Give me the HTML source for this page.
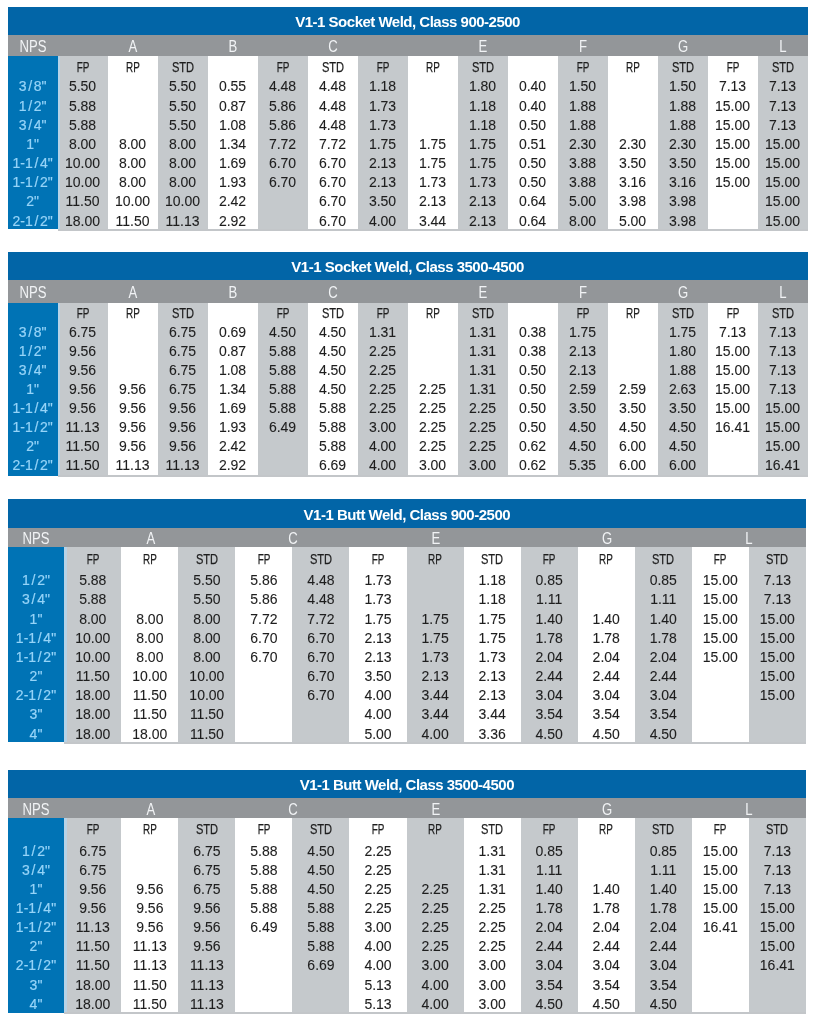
<!DOCTYPE html>
<html><head><meta charset="utf-8"><title>V1-1 Dimensions</title>
<style>
html,body{margin:0;padding:0;background:#fff}
body{width:815px;height:1024px;position:relative;overflow:hidden;font-family:"Liberation Sans", sans-serif}
.r{position:absolute}
.t{position:absolute;height:20px;line-height:20px;font-size:14px;text-align:center;white-space:nowrap}
.d{color:#1e1e1e;-webkit-text-stroke:0.1px #1e1e1e}
.s{color:#1e1e1e;font-size:15px;-webkit-text-stroke:0.25px #1e1e1e}
.sFP{transform:scaleX(0.66)}
.sRP{transform:scaleX(0.66)}
.sSTD{transform:scaleX(0.74)}
.n{color:#96d4f8;-webkit-text-stroke:0.2px #96d4f8}
.h{color:#f1f3f5;font-size:16px;transform:scaleX(0.82)}
.sl{margin:0 1.7px}
.title{position:absolute;color:#fff;font-weight:bold;font-size:15px;text-align:center;letter-spacing:-0.5px;white-space:nowrap}
</style></head><body>
<div class="r" style="left:7.75px;top:6.80px;width:799.75px;height:27.80px;background:#0265a7"></div>
<div class="r" style="left:7.75px;top:34.60px;width:799.75px;height:21.80px;background:#939699"></div>
<div class="r" style="left:7.75px;top:56.40px;width:49.75px;height:173.00px;background:#0073b5"></div>
<div class="r" style="left:57.50px;top:56.40px;width:50.00px;height:174.40px;background:#c5c9cc"></div>
<div class="r" style="left:157.50px;top:56.40px;width:50.00px;height:174.40px;background:#c5c9cc"></div>
<div class="r" style="left:257.50px;top:56.40px;width:50.00px;height:174.40px;background:#c5c9cc"></div>
<div class="r" style="left:357.50px;top:56.40px;width:50.00px;height:174.40px;background:#c5c9cc"></div>
<div class="r" style="left:457.50px;top:56.40px;width:50.00px;height:174.40px;background:#c5c9cc"></div>
<div class="r" style="left:557.50px;top:56.40px;width:50.00px;height:174.40px;background:#c5c9cc"></div>
<div class="r" style="left:657.50px;top:56.40px;width:50.00px;height:174.40px;background:#c5c9cc"></div>
<div class="r" style="left:757.50px;top:56.40px;width:50.00px;height:174.40px;background:#c5c9cc"></div>
<div class="r" style="left:57.50px;top:56.40px;width:2.50px;height:172.60px;background:#b7d3e7"></div>
<div class="r" style="left:57.50px;top:228.80px;width:750.00px;height:2.00px;background:#c3c6c9"></div>
<div class="title" style="left:7.75px;top:8.10px;width:799.75px;height:27.80px;line-height:27.80px">V1-1 Socket Weld, Class 900-2500</div>
<div class="t h" style="left:2.62px;top:37.26px;width:60px">NPS</div>
<div class="t h" style="left:103.00px;top:37.26px;width:60px">A</div>
<div class="t h" style="left:203.00px;top:37.26px;width:60px">B</div>
<div class="t h" style="left:303.00px;top:37.26px;width:60px">C</div>
<div class="t h" style="left:453.00px;top:37.26px;width:60px">E</div>
<div class="t h" style="left:553.00px;top:37.26px;width:60px">F</div>
<div class="t h" style="left:653.00px;top:37.26px;width:60px">G</div>
<div class="t h" style="left:753.00px;top:37.26px;width:60px">L</div>
<div class="t s sFP" style="left:52.50px;top:56.70px;width:60px">FP</div>
<div class="t s sRP" style="left:102.50px;top:56.70px;width:60px">RP</div>
<div class="t s sSTD" style="left:152.50px;top:56.70px;width:60px">STD</div>
<div class="t s sFP" style="left:252.50px;top:56.70px;width:60px">FP</div>
<div class="t s sSTD" style="left:302.50px;top:56.70px;width:60px">STD</div>
<div class="t s sFP" style="left:352.50px;top:56.70px;width:60px">FP</div>
<div class="t s sRP" style="left:402.50px;top:56.70px;width:60px">RP</div>
<div class="t s sSTD" style="left:452.50px;top:56.70px;width:60px">STD</div>
<div class="t s sFP" style="left:552.50px;top:56.70px;width:60px">FP</div>
<div class="t s sRP" style="left:602.50px;top:56.70px;width:60px">RP</div>
<div class="t s sSTD" style="left:652.50px;top:56.70px;width:60px">STD</div>
<div class="t s sFP" style="left:702.50px;top:56.70px;width:60px">FP</div>
<div class="t s sSTD" style="left:752.50px;top:56.70px;width:60px">STD</div>
<div class="t n" style="left:2.62px;top:76.35px;width:60px">3<span class="sl">/</span>8"</div>
<div class="t d" style="left:52.50px;top:76.35px;width:60px">5.50</div>
<div class="t d" style="left:152.50px;top:76.35px;width:60px">5.50</div>
<div class="t d" style="left:202.50px;top:76.35px;width:60px">0.55</div>
<div class="t d" style="left:252.50px;top:76.35px;width:60px">4.48</div>
<div class="t d" style="left:302.50px;top:76.35px;width:60px">4.48</div>
<div class="t d" style="left:352.50px;top:76.35px;width:60px">1.18</div>
<div class="t d" style="left:452.50px;top:76.35px;width:60px">1.80</div>
<div class="t d" style="left:502.50px;top:76.35px;width:60px">0.40</div>
<div class="t d" style="left:552.50px;top:76.35px;width:60px">1.50</div>
<div class="t d" style="left:652.50px;top:76.35px;width:60px">1.50</div>
<div class="t d" style="left:702.50px;top:76.35px;width:60px">7.13</div>
<div class="t d" style="left:752.50px;top:76.35px;width:60px">7.13</div>
<div class="t n" style="left:2.62px;top:95.52px;width:60px">1<span class="sl">/</span>2"</div>
<div class="t d" style="left:52.50px;top:95.52px;width:60px">5.88</div>
<div class="t d" style="left:152.50px;top:95.52px;width:60px">5.50</div>
<div class="t d" style="left:202.50px;top:95.52px;width:60px">0.87</div>
<div class="t d" style="left:252.50px;top:95.52px;width:60px">5.86</div>
<div class="t d" style="left:302.50px;top:95.52px;width:60px">4.48</div>
<div class="t d" style="left:352.50px;top:95.52px;width:60px">1.73</div>
<div class="t d" style="left:452.50px;top:95.52px;width:60px">1.18</div>
<div class="t d" style="left:502.50px;top:95.52px;width:60px">0.40</div>
<div class="t d" style="left:552.50px;top:95.52px;width:60px">1.88</div>
<div class="t d" style="left:652.50px;top:95.52px;width:60px">1.88</div>
<div class="t d" style="left:702.50px;top:95.52px;width:60px">15.00</div>
<div class="t d" style="left:752.50px;top:95.52px;width:60px">7.13</div>
<div class="t n" style="left:2.62px;top:114.69px;width:60px">3<span class="sl">/</span>4"</div>
<div class="t d" style="left:52.50px;top:114.69px;width:60px">5.88</div>
<div class="t d" style="left:152.50px;top:114.69px;width:60px">5.50</div>
<div class="t d" style="left:202.50px;top:114.69px;width:60px">1.08</div>
<div class="t d" style="left:252.50px;top:114.69px;width:60px">5.86</div>
<div class="t d" style="left:302.50px;top:114.69px;width:60px">4.48</div>
<div class="t d" style="left:352.50px;top:114.69px;width:60px">1.73</div>
<div class="t d" style="left:452.50px;top:114.69px;width:60px">1.18</div>
<div class="t d" style="left:502.50px;top:114.69px;width:60px">0.50</div>
<div class="t d" style="left:552.50px;top:114.69px;width:60px">1.88</div>
<div class="t d" style="left:652.50px;top:114.69px;width:60px">1.88</div>
<div class="t d" style="left:702.50px;top:114.69px;width:60px">15.00</div>
<div class="t d" style="left:752.50px;top:114.69px;width:60px">7.13</div>
<div class="t n" style="left:2.62px;top:133.86px;width:60px">1"</div>
<div class="t d" style="left:52.50px;top:133.86px;width:60px">8.00</div>
<div class="t d" style="left:102.50px;top:133.86px;width:60px">8.00</div>
<div class="t d" style="left:152.50px;top:133.86px;width:60px">8.00</div>
<div class="t d" style="left:202.50px;top:133.86px;width:60px">1.34</div>
<div class="t d" style="left:252.50px;top:133.86px;width:60px">7.72</div>
<div class="t d" style="left:302.50px;top:133.86px;width:60px">7.72</div>
<div class="t d" style="left:352.50px;top:133.86px;width:60px">1.75</div>
<div class="t d" style="left:402.50px;top:133.86px;width:60px">1.75</div>
<div class="t d" style="left:452.50px;top:133.86px;width:60px">1.75</div>
<div class="t d" style="left:502.50px;top:133.86px;width:60px">0.51</div>
<div class="t d" style="left:552.50px;top:133.86px;width:60px">2.30</div>
<div class="t d" style="left:602.50px;top:133.86px;width:60px">2.30</div>
<div class="t d" style="left:652.50px;top:133.86px;width:60px">2.30</div>
<div class="t d" style="left:702.50px;top:133.86px;width:60px">15.00</div>
<div class="t d" style="left:752.50px;top:133.86px;width:60px">15.00</div>
<div class="t n" style="left:2.62px;top:153.03px;width:60px">1-1<span class="sl">/</span>4"</div>
<div class="t d" style="left:52.50px;top:153.03px;width:60px">10.00</div>
<div class="t d" style="left:102.50px;top:153.03px;width:60px">8.00</div>
<div class="t d" style="left:152.50px;top:153.03px;width:60px">8.00</div>
<div class="t d" style="left:202.50px;top:153.03px;width:60px">1.69</div>
<div class="t d" style="left:252.50px;top:153.03px;width:60px">6.70</div>
<div class="t d" style="left:302.50px;top:153.03px;width:60px">6.70</div>
<div class="t d" style="left:352.50px;top:153.03px;width:60px">2.13</div>
<div class="t d" style="left:402.50px;top:153.03px;width:60px">1.75</div>
<div class="t d" style="left:452.50px;top:153.03px;width:60px">1.75</div>
<div class="t d" style="left:502.50px;top:153.03px;width:60px">0.50</div>
<div class="t d" style="left:552.50px;top:153.03px;width:60px">3.88</div>
<div class="t d" style="left:602.50px;top:153.03px;width:60px">3.50</div>
<div class="t d" style="left:652.50px;top:153.03px;width:60px">3.50</div>
<div class="t d" style="left:702.50px;top:153.03px;width:60px">15.00</div>
<div class="t d" style="left:752.50px;top:153.03px;width:60px">15.00</div>
<div class="t n" style="left:2.62px;top:172.20px;width:60px">1-1<span class="sl">/</span>2"</div>
<div class="t d" style="left:52.50px;top:172.20px;width:60px">10.00</div>
<div class="t d" style="left:102.50px;top:172.20px;width:60px">8.00</div>
<div class="t d" style="left:152.50px;top:172.20px;width:60px">8.00</div>
<div class="t d" style="left:202.50px;top:172.20px;width:60px">1.93</div>
<div class="t d" style="left:252.50px;top:172.20px;width:60px">6.70</div>
<div class="t d" style="left:302.50px;top:172.20px;width:60px">6.70</div>
<div class="t d" style="left:352.50px;top:172.20px;width:60px">2.13</div>
<div class="t d" style="left:402.50px;top:172.20px;width:60px">1.73</div>
<div class="t d" style="left:452.50px;top:172.20px;width:60px">1.73</div>
<div class="t d" style="left:502.50px;top:172.20px;width:60px">0.50</div>
<div class="t d" style="left:552.50px;top:172.20px;width:60px">3.88</div>
<div class="t d" style="left:602.50px;top:172.20px;width:60px">3.16</div>
<div class="t d" style="left:652.50px;top:172.20px;width:60px">3.16</div>
<div class="t d" style="left:702.50px;top:172.20px;width:60px">15.00</div>
<div class="t d" style="left:752.50px;top:172.20px;width:60px">15.00</div>
<div class="t n" style="left:2.62px;top:191.37px;width:60px">2"</div>
<div class="t d" style="left:52.50px;top:191.37px;width:60px">11.50</div>
<div class="t d" style="left:102.50px;top:191.37px;width:60px">10.00</div>
<div class="t d" style="left:152.50px;top:191.37px;width:60px">10.00</div>
<div class="t d" style="left:202.50px;top:191.37px;width:60px">2.42</div>
<div class="t d" style="left:302.50px;top:191.37px;width:60px">6.70</div>
<div class="t d" style="left:352.50px;top:191.37px;width:60px">3.50</div>
<div class="t d" style="left:402.50px;top:191.37px;width:60px">2.13</div>
<div class="t d" style="left:452.50px;top:191.37px;width:60px">2.13</div>
<div class="t d" style="left:502.50px;top:191.37px;width:60px">0.64</div>
<div class="t d" style="left:552.50px;top:191.37px;width:60px">5.00</div>
<div class="t d" style="left:602.50px;top:191.37px;width:60px">3.98</div>
<div class="t d" style="left:652.50px;top:191.37px;width:60px">3.98</div>
<div class="t d" style="left:752.50px;top:191.37px;width:60px">15.00</div>
<div class="t n" style="left:2.62px;top:210.54px;width:60px">2-1<span class="sl">/</span>2"</div>
<div class="t d" style="left:52.50px;top:210.54px;width:60px">18.00</div>
<div class="t d" style="left:102.50px;top:210.54px;width:60px">11.50</div>
<div class="t d" style="left:152.50px;top:210.54px;width:60px">11.13</div>
<div class="t d" style="left:202.50px;top:210.54px;width:60px">2.92</div>
<div class="t d" style="left:302.50px;top:210.54px;width:60px">6.70</div>
<div class="t d" style="left:352.50px;top:210.54px;width:60px">4.00</div>
<div class="t d" style="left:402.50px;top:210.54px;width:60px">3.44</div>
<div class="t d" style="left:452.50px;top:210.54px;width:60px">2.13</div>
<div class="t d" style="left:502.50px;top:210.54px;width:60px">0.64</div>
<div class="t d" style="left:552.50px;top:210.54px;width:60px">8.00</div>
<div class="t d" style="left:602.50px;top:210.54px;width:60px">5.00</div>
<div class="t d" style="left:652.50px;top:210.54px;width:60px">3.98</div>
<div class="t d" style="left:752.50px;top:210.54px;width:60px">15.00</div>
<div class="r" style="left:7.75px;top:252.00px;width:799.75px;height:28.20px;background:#0265a7"></div>
<div class="r" style="left:7.75px;top:280.20px;width:799.75px;height:22.50px;background:#939699"></div>
<div class="r" style="left:7.75px;top:302.70px;width:49.75px;height:172.90px;background:#0073b5"></div>
<div class="r" style="left:57.50px;top:302.70px;width:50.00px;height:174.30px;background:#c5c9cc"></div>
<div class="r" style="left:157.50px;top:302.70px;width:50.00px;height:174.30px;background:#c5c9cc"></div>
<div class="r" style="left:257.50px;top:302.70px;width:50.00px;height:174.30px;background:#c5c9cc"></div>
<div class="r" style="left:357.50px;top:302.70px;width:50.00px;height:174.30px;background:#c5c9cc"></div>
<div class="r" style="left:457.50px;top:302.70px;width:50.00px;height:174.30px;background:#c5c9cc"></div>
<div class="r" style="left:557.50px;top:302.70px;width:50.00px;height:174.30px;background:#c5c9cc"></div>
<div class="r" style="left:657.50px;top:302.70px;width:50.00px;height:174.30px;background:#c5c9cc"></div>
<div class="r" style="left:757.50px;top:302.70px;width:50.00px;height:174.30px;background:#c5c9cc"></div>
<div class="r" style="left:57.50px;top:302.70px;width:2.50px;height:172.50px;background:#b7d3e7"></div>
<div class="r" style="left:57.50px;top:475.00px;width:750.00px;height:2.00px;background:#c3c6c9"></div>
<div class="title" style="left:7.75px;top:253.30px;width:799.75px;height:28.20px;line-height:28.20px">V1-1 Socket Weld, Class 3500-4500</div>
<div class="t h" style="left:2.62px;top:283.21px;width:60px">NPS</div>
<div class="t h" style="left:103.00px;top:283.21px;width:60px">A</div>
<div class="t h" style="left:203.00px;top:283.21px;width:60px">B</div>
<div class="t h" style="left:303.00px;top:283.21px;width:60px">C</div>
<div class="t h" style="left:453.00px;top:283.21px;width:60px">E</div>
<div class="t h" style="left:553.00px;top:283.21px;width:60px">F</div>
<div class="t h" style="left:653.00px;top:283.21px;width:60px">G</div>
<div class="t h" style="left:753.00px;top:283.21px;width:60px">L</div>
<div class="t s sFP" style="left:52.50px;top:302.80px;width:60px">FP</div>
<div class="t s sRP" style="left:102.50px;top:302.80px;width:60px">RP</div>
<div class="t s sSTD" style="left:152.50px;top:302.80px;width:60px">STD</div>
<div class="t s sFP" style="left:252.50px;top:302.80px;width:60px">FP</div>
<div class="t s sSTD" style="left:302.50px;top:302.80px;width:60px">STD</div>
<div class="t s sFP" style="left:352.50px;top:302.80px;width:60px">FP</div>
<div class="t s sRP" style="left:402.50px;top:302.80px;width:60px">RP</div>
<div class="t s sSTD" style="left:452.50px;top:302.80px;width:60px">STD</div>
<div class="t s sFP" style="left:552.50px;top:302.80px;width:60px">FP</div>
<div class="t s sRP" style="left:602.50px;top:302.80px;width:60px">RP</div>
<div class="t s sSTD" style="left:652.50px;top:302.80px;width:60px">STD</div>
<div class="t s sFP" style="left:702.50px;top:302.80px;width:60px">FP</div>
<div class="t s sSTD" style="left:752.50px;top:302.80px;width:60px">STD</div>
<div class="t n" style="left:2.62px;top:321.55px;width:60px">3<span class="sl">/</span>8"</div>
<div class="t d" style="left:52.50px;top:321.55px;width:60px">6.75</div>
<div class="t d" style="left:152.50px;top:321.55px;width:60px">6.75</div>
<div class="t d" style="left:202.50px;top:321.55px;width:60px">0.69</div>
<div class="t d" style="left:252.50px;top:321.55px;width:60px">4.50</div>
<div class="t d" style="left:302.50px;top:321.55px;width:60px">4.50</div>
<div class="t d" style="left:352.50px;top:321.55px;width:60px">1.31</div>
<div class="t d" style="left:452.50px;top:321.55px;width:60px">1.31</div>
<div class="t d" style="left:502.50px;top:321.55px;width:60px">0.38</div>
<div class="t d" style="left:552.50px;top:321.55px;width:60px">1.75</div>
<div class="t d" style="left:652.50px;top:321.55px;width:60px">1.75</div>
<div class="t d" style="left:702.50px;top:321.55px;width:60px">7.13</div>
<div class="t d" style="left:752.50px;top:321.55px;width:60px">7.13</div>
<div class="t n" style="left:2.62px;top:340.65px;width:60px">1<span class="sl">/</span>2"</div>
<div class="t d" style="left:52.50px;top:340.65px;width:60px">9.56</div>
<div class="t d" style="left:152.50px;top:340.65px;width:60px">6.75</div>
<div class="t d" style="left:202.50px;top:340.65px;width:60px">0.87</div>
<div class="t d" style="left:252.50px;top:340.65px;width:60px">5.88</div>
<div class="t d" style="left:302.50px;top:340.65px;width:60px">4.50</div>
<div class="t d" style="left:352.50px;top:340.65px;width:60px">2.25</div>
<div class="t d" style="left:452.50px;top:340.65px;width:60px">1.31</div>
<div class="t d" style="left:502.50px;top:340.65px;width:60px">0.38</div>
<div class="t d" style="left:552.50px;top:340.65px;width:60px">2.13</div>
<div class="t d" style="left:652.50px;top:340.65px;width:60px">1.80</div>
<div class="t d" style="left:702.50px;top:340.65px;width:60px">15.00</div>
<div class="t d" style="left:752.50px;top:340.65px;width:60px">7.13</div>
<div class="t n" style="left:2.62px;top:359.75px;width:60px">3<span class="sl">/</span>4"</div>
<div class="t d" style="left:52.50px;top:359.75px;width:60px">9.56</div>
<div class="t d" style="left:152.50px;top:359.75px;width:60px">6.75</div>
<div class="t d" style="left:202.50px;top:359.75px;width:60px">1.08</div>
<div class="t d" style="left:252.50px;top:359.75px;width:60px">5.88</div>
<div class="t d" style="left:302.50px;top:359.75px;width:60px">4.50</div>
<div class="t d" style="left:352.50px;top:359.75px;width:60px">2.25</div>
<div class="t d" style="left:452.50px;top:359.75px;width:60px">1.31</div>
<div class="t d" style="left:502.50px;top:359.75px;width:60px">0.50</div>
<div class="t d" style="left:552.50px;top:359.75px;width:60px">2.13</div>
<div class="t d" style="left:652.50px;top:359.75px;width:60px">1.88</div>
<div class="t d" style="left:702.50px;top:359.75px;width:60px">15.00</div>
<div class="t d" style="left:752.50px;top:359.75px;width:60px">7.13</div>
<div class="t n" style="left:2.62px;top:378.85px;width:60px">1"</div>
<div class="t d" style="left:52.50px;top:378.85px;width:60px">9.56</div>
<div class="t d" style="left:102.50px;top:378.85px;width:60px">9.56</div>
<div class="t d" style="left:152.50px;top:378.85px;width:60px">6.75</div>
<div class="t d" style="left:202.50px;top:378.85px;width:60px">1.34</div>
<div class="t d" style="left:252.50px;top:378.85px;width:60px">5.88</div>
<div class="t d" style="left:302.50px;top:378.85px;width:60px">4.50</div>
<div class="t d" style="left:352.50px;top:378.85px;width:60px">2.25</div>
<div class="t d" style="left:402.50px;top:378.85px;width:60px">2.25</div>
<div class="t d" style="left:452.50px;top:378.85px;width:60px">1.31</div>
<div class="t d" style="left:502.50px;top:378.85px;width:60px">0.50</div>
<div class="t d" style="left:552.50px;top:378.85px;width:60px">2.59</div>
<div class="t d" style="left:602.50px;top:378.85px;width:60px">2.59</div>
<div class="t d" style="left:652.50px;top:378.85px;width:60px">2.63</div>
<div class="t d" style="left:702.50px;top:378.85px;width:60px">15.00</div>
<div class="t d" style="left:752.50px;top:378.85px;width:60px">7.13</div>
<div class="t n" style="left:2.62px;top:397.95px;width:60px">1-1<span class="sl">/</span>4"</div>
<div class="t d" style="left:52.50px;top:397.95px;width:60px">9.56</div>
<div class="t d" style="left:102.50px;top:397.95px;width:60px">9.56</div>
<div class="t d" style="left:152.50px;top:397.95px;width:60px">9.56</div>
<div class="t d" style="left:202.50px;top:397.95px;width:60px">1.69</div>
<div class="t d" style="left:252.50px;top:397.95px;width:60px">5.88</div>
<div class="t d" style="left:302.50px;top:397.95px;width:60px">5.88</div>
<div class="t d" style="left:352.50px;top:397.95px;width:60px">2.25</div>
<div class="t d" style="left:402.50px;top:397.95px;width:60px">2.25</div>
<div class="t d" style="left:452.50px;top:397.95px;width:60px">2.25</div>
<div class="t d" style="left:502.50px;top:397.95px;width:60px">0.50</div>
<div class="t d" style="left:552.50px;top:397.95px;width:60px">3.50</div>
<div class="t d" style="left:602.50px;top:397.95px;width:60px">3.50</div>
<div class="t d" style="left:652.50px;top:397.95px;width:60px">3.50</div>
<div class="t d" style="left:702.50px;top:397.95px;width:60px">15.00</div>
<div class="t d" style="left:752.50px;top:397.95px;width:60px">15.00</div>
<div class="t n" style="left:2.62px;top:417.05px;width:60px">1-1<span class="sl">/</span>2"</div>
<div class="t d" style="left:52.50px;top:417.05px;width:60px">11.13</div>
<div class="t d" style="left:102.50px;top:417.05px;width:60px">9.56</div>
<div class="t d" style="left:152.50px;top:417.05px;width:60px">9.56</div>
<div class="t d" style="left:202.50px;top:417.05px;width:60px">1.93</div>
<div class="t d" style="left:252.50px;top:417.05px;width:60px">6.49</div>
<div class="t d" style="left:302.50px;top:417.05px;width:60px">5.88</div>
<div class="t d" style="left:352.50px;top:417.05px;width:60px">3.00</div>
<div class="t d" style="left:402.50px;top:417.05px;width:60px">2.25</div>
<div class="t d" style="left:452.50px;top:417.05px;width:60px">2.25</div>
<div class="t d" style="left:502.50px;top:417.05px;width:60px">0.50</div>
<div class="t d" style="left:552.50px;top:417.05px;width:60px">4.50</div>
<div class="t d" style="left:602.50px;top:417.05px;width:60px">4.50</div>
<div class="t d" style="left:652.50px;top:417.05px;width:60px">4.50</div>
<div class="t d" style="left:702.50px;top:417.05px;width:60px">16.41</div>
<div class="t d" style="left:752.50px;top:417.05px;width:60px">15.00</div>
<div class="t n" style="left:2.62px;top:436.15px;width:60px">2"</div>
<div class="t d" style="left:52.50px;top:436.15px;width:60px">11.50</div>
<div class="t d" style="left:102.50px;top:436.15px;width:60px">9.56</div>
<div class="t d" style="left:152.50px;top:436.15px;width:60px">9.56</div>
<div class="t d" style="left:202.50px;top:436.15px;width:60px">2.42</div>
<div class="t d" style="left:302.50px;top:436.15px;width:60px">5.88</div>
<div class="t d" style="left:352.50px;top:436.15px;width:60px">4.00</div>
<div class="t d" style="left:402.50px;top:436.15px;width:60px">2.25</div>
<div class="t d" style="left:452.50px;top:436.15px;width:60px">2.25</div>
<div class="t d" style="left:502.50px;top:436.15px;width:60px">0.62</div>
<div class="t d" style="left:552.50px;top:436.15px;width:60px">4.50</div>
<div class="t d" style="left:602.50px;top:436.15px;width:60px">6.00</div>
<div class="t d" style="left:652.50px;top:436.15px;width:60px">4.50</div>
<div class="t d" style="left:752.50px;top:436.15px;width:60px">15.00</div>
<div class="t n" style="left:2.62px;top:455.25px;width:60px">2-1<span class="sl">/</span>2"</div>
<div class="t d" style="left:52.50px;top:455.25px;width:60px">11.50</div>
<div class="t d" style="left:102.50px;top:455.25px;width:60px">11.13</div>
<div class="t d" style="left:152.50px;top:455.25px;width:60px">11.13</div>
<div class="t d" style="left:202.50px;top:455.25px;width:60px">2.92</div>
<div class="t d" style="left:302.50px;top:455.25px;width:60px">6.69</div>
<div class="t d" style="left:352.50px;top:455.25px;width:60px">4.00</div>
<div class="t d" style="left:402.50px;top:455.25px;width:60px">3.00</div>
<div class="t d" style="left:452.50px;top:455.25px;width:60px">3.00</div>
<div class="t d" style="left:502.50px;top:455.25px;width:60px">0.62</div>
<div class="t d" style="left:552.50px;top:455.25px;width:60px">5.35</div>
<div class="t d" style="left:602.50px;top:455.25px;width:60px">6.00</div>
<div class="t d" style="left:652.50px;top:455.25px;width:60px">6.00</div>
<div class="t d" style="left:752.50px;top:455.25px;width:60px">16.41</div>
<div class="r" style="left:7.75px;top:499.30px;width:798.15px;height:28.50px;background:#0265a7"></div>
<div class="r" style="left:7.75px;top:527.80px;width:798.15px;height:19.00px;background:#939699"></div>
<div class="r" style="left:7.75px;top:546.80px;width:56.50px;height:195.60px;background:#0073b5"></div>
<div class="r" style="left:64.25px;top:546.80px;width:57.05px;height:197.00px;background:#c5c9cc"></div>
<div class="r" style="left:178.35px;top:546.80px;width:57.05px;height:197.00px;background:#c5c9cc"></div>
<div class="r" style="left:292.45px;top:546.80px;width:57.05px;height:197.00px;background:#c5c9cc"></div>
<div class="r" style="left:406.55px;top:546.80px;width:57.05px;height:197.00px;background:#c5c9cc"></div>
<div class="r" style="left:520.65px;top:546.80px;width:57.05px;height:197.00px;background:#c5c9cc"></div>
<div class="r" style="left:634.75px;top:546.80px;width:57.05px;height:197.00px;background:#c5c9cc"></div>
<div class="r" style="left:748.85px;top:546.80px;width:57.05px;height:197.00px;background:#c5c9cc"></div>
<div class="r" style="left:64.25px;top:546.80px;width:2.50px;height:195.20px;background:#b7d3e7"></div>
<div class="r" style="left:64.25px;top:741.80px;width:741.65px;height:2.00px;background:#c3c6c9"></div>
<div class="title" style="left:7.75px;top:500.60px;width:798.15px;height:28.50px;line-height:28.50px">V1-1 Butt Weld, Class 900-2500</div>
<div class="t h" style="left:6.00px;top:529.06px;width:60px">NPS</div>
<div class="t h" style="left:120.50px;top:529.06px;width:60px">A</div>
<div class="t h" style="left:263.00px;top:529.06px;width:60px">C</div>
<div class="t h" style="left:405.50px;top:529.06px;width:60px">E</div>
<div class="t h" style="left:576.50px;top:529.06px;width:60px">G</div>
<div class="t h" style="left:719.00px;top:529.06px;width:60px">L</div>
<div class="t s sFP" style="left:62.78px;top:549.20px;width:60px">FP</div>
<div class="t s sRP" style="left:119.82px;top:549.20px;width:60px">RP</div>
<div class="t s sSTD" style="left:176.88px;top:549.20px;width:60px">STD</div>
<div class="t s sFP" style="left:233.92px;top:549.20px;width:60px">FP</div>
<div class="t s sSTD" style="left:290.97px;top:549.20px;width:60px">STD</div>
<div class="t s sFP" style="left:348.02px;top:549.20px;width:60px">FP</div>
<div class="t s sRP" style="left:405.07px;top:549.20px;width:60px">RP</div>
<div class="t s sSTD" style="left:462.12px;top:549.20px;width:60px">STD</div>
<div class="t s sFP" style="left:519.17px;top:549.20px;width:60px">FP</div>
<div class="t s sRP" style="left:576.22px;top:549.20px;width:60px">RP</div>
<div class="t s sSTD" style="left:633.27px;top:549.20px;width:60px">STD</div>
<div class="t s sFP" style="left:690.32px;top:549.20px;width:60px">FP</div>
<div class="t s sSTD" style="left:747.37px;top:549.20px;width:60px">STD</div>
<div class="t n" style="left:6.00px;top:570.25px;width:60px">1<span class="sl">/</span>2"</div>
<div class="t d" style="left:62.78px;top:570.25px;width:60px">5.88</div>
<div class="t d" style="left:176.88px;top:570.25px;width:60px">5.50</div>
<div class="t d" style="left:233.92px;top:570.25px;width:60px">5.86</div>
<div class="t d" style="left:290.97px;top:570.25px;width:60px">4.48</div>
<div class="t d" style="left:348.02px;top:570.25px;width:60px">1.73</div>
<div class="t d" style="left:462.12px;top:570.25px;width:60px">1.18</div>
<div class="t d" style="left:519.17px;top:570.25px;width:60px">0.85</div>
<div class="t d" style="left:633.27px;top:570.25px;width:60px">0.85</div>
<div class="t d" style="left:690.32px;top:570.25px;width:60px">15.00</div>
<div class="t d" style="left:747.37px;top:570.25px;width:60px">7.13</div>
<div class="t n" style="left:6.00px;top:589.42px;width:60px">3<span class="sl">/</span>4"</div>
<div class="t d" style="left:62.78px;top:589.42px;width:60px">5.88</div>
<div class="t d" style="left:176.88px;top:589.42px;width:60px">5.50</div>
<div class="t d" style="left:233.92px;top:589.42px;width:60px">5.86</div>
<div class="t d" style="left:290.97px;top:589.42px;width:60px">4.48</div>
<div class="t d" style="left:348.02px;top:589.42px;width:60px">1.73</div>
<div class="t d" style="left:462.12px;top:589.42px;width:60px">1.18</div>
<div class="t d" style="left:519.17px;top:589.42px;width:60px">1.11</div>
<div class="t d" style="left:633.27px;top:589.42px;width:60px">1.11</div>
<div class="t d" style="left:690.32px;top:589.42px;width:60px">15.00</div>
<div class="t d" style="left:747.37px;top:589.42px;width:60px">7.13</div>
<div class="t n" style="left:6.00px;top:608.59px;width:60px">1"</div>
<div class="t d" style="left:62.78px;top:608.59px;width:60px">8.00</div>
<div class="t d" style="left:119.82px;top:608.59px;width:60px">8.00</div>
<div class="t d" style="left:176.88px;top:608.59px;width:60px">8.00</div>
<div class="t d" style="left:233.92px;top:608.59px;width:60px">7.72</div>
<div class="t d" style="left:290.97px;top:608.59px;width:60px">7.72</div>
<div class="t d" style="left:348.02px;top:608.59px;width:60px">1.75</div>
<div class="t d" style="left:405.07px;top:608.59px;width:60px">1.75</div>
<div class="t d" style="left:462.12px;top:608.59px;width:60px">1.75</div>
<div class="t d" style="left:519.17px;top:608.59px;width:60px">1.40</div>
<div class="t d" style="left:576.22px;top:608.59px;width:60px">1.40</div>
<div class="t d" style="left:633.27px;top:608.59px;width:60px">1.40</div>
<div class="t d" style="left:690.32px;top:608.59px;width:60px">15.00</div>
<div class="t d" style="left:747.37px;top:608.59px;width:60px">15.00</div>
<div class="t n" style="left:6.00px;top:627.76px;width:60px">1-1<span class="sl">/</span>4"</div>
<div class="t d" style="left:62.78px;top:627.76px;width:60px">10.00</div>
<div class="t d" style="left:119.82px;top:627.76px;width:60px">8.00</div>
<div class="t d" style="left:176.88px;top:627.76px;width:60px">8.00</div>
<div class="t d" style="left:233.92px;top:627.76px;width:60px">6.70</div>
<div class="t d" style="left:290.97px;top:627.76px;width:60px">6.70</div>
<div class="t d" style="left:348.02px;top:627.76px;width:60px">2.13</div>
<div class="t d" style="left:405.07px;top:627.76px;width:60px">1.75</div>
<div class="t d" style="left:462.12px;top:627.76px;width:60px">1.75</div>
<div class="t d" style="left:519.17px;top:627.76px;width:60px">1.78</div>
<div class="t d" style="left:576.22px;top:627.76px;width:60px">1.78</div>
<div class="t d" style="left:633.27px;top:627.76px;width:60px">1.78</div>
<div class="t d" style="left:690.32px;top:627.76px;width:60px">15.00</div>
<div class="t d" style="left:747.37px;top:627.76px;width:60px">15.00</div>
<div class="t n" style="left:6.00px;top:646.93px;width:60px">1-1<span class="sl">/</span>2"</div>
<div class="t d" style="left:62.78px;top:646.93px;width:60px">10.00</div>
<div class="t d" style="left:119.82px;top:646.93px;width:60px">8.00</div>
<div class="t d" style="left:176.88px;top:646.93px;width:60px">8.00</div>
<div class="t d" style="left:233.92px;top:646.93px;width:60px">6.70</div>
<div class="t d" style="left:290.97px;top:646.93px;width:60px">6.70</div>
<div class="t d" style="left:348.02px;top:646.93px;width:60px">2.13</div>
<div class="t d" style="left:405.07px;top:646.93px;width:60px">1.73</div>
<div class="t d" style="left:462.12px;top:646.93px;width:60px">1.73</div>
<div class="t d" style="left:519.17px;top:646.93px;width:60px">2.04</div>
<div class="t d" style="left:576.22px;top:646.93px;width:60px">2.04</div>
<div class="t d" style="left:633.27px;top:646.93px;width:60px">2.04</div>
<div class="t d" style="left:690.32px;top:646.93px;width:60px">15.00</div>
<div class="t d" style="left:747.37px;top:646.93px;width:60px">15.00</div>
<div class="t n" style="left:6.00px;top:666.10px;width:60px">2"</div>
<div class="t d" style="left:62.78px;top:666.10px;width:60px">11.50</div>
<div class="t d" style="left:119.82px;top:666.10px;width:60px">10.00</div>
<div class="t d" style="left:176.88px;top:666.10px;width:60px">10.00</div>
<div class="t d" style="left:290.97px;top:666.10px;width:60px">6.70</div>
<div class="t d" style="left:348.02px;top:666.10px;width:60px">3.50</div>
<div class="t d" style="left:405.07px;top:666.10px;width:60px">2.13</div>
<div class="t d" style="left:462.12px;top:666.10px;width:60px">2.13</div>
<div class="t d" style="left:519.17px;top:666.10px;width:60px">2.44</div>
<div class="t d" style="left:576.22px;top:666.10px;width:60px">2.44</div>
<div class="t d" style="left:633.27px;top:666.10px;width:60px">2.44</div>
<div class="t d" style="left:747.37px;top:666.10px;width:60px">15.00</div>
<div class="t n" style="left:6.00px;top:685.27px;width:60px">2-1<span class="sl">/</span>2"</div>
<div class="t d" style="left:62.78px;top:685.27px;width:60px">18.00</div>
<div class="t d" style="left:119.82px;top:685.27px;width:60px">11.50</div>
<div class="t d" style="left:176.88px;top:685.27px;width:60px">10.00</div>
<div class="t d" style="left:290.97px;top:685.27px;width:60px">6.70</div>
<div class="t d" style="left:348.02px;top:685.27px;width:60px">4.00</div>
<div class="t d" style="left:405.07px;top:685.27px;width:60px">3.44</div>
<div class="t d" style="left:462.12px;top:685.27px;width:60px">2.13</div>
<div class="t d" style="left:519.17px;top:685.27px;width:60px">3.04</div>
<div class="t d" style="left:576.22px;top:685.27px;width:60px">3.04</div>
<div class="t d" style="left:633.27px;top:685.27px;width:60px">3.04</div>
<div class="t d" style="left:747.37px;top:685.27px;width:60px">15.00</div>
<div class="t n" style="left:6.00px;top:704.44px;width:60px">3"</div>
<div class="t d" style="left:62.78px;top:704.44px;width:60px">18.00</div>
<div class="t d" style="left:119.82px;top:704.44px;width:60px">11.50</div>
<div class="t d" style="left:176.88px;top:704.44px;width:60px">11.50</div>
<div class="t d" style="left:348.02px;top:704.44px;width:60px">4.00</div>
<div class="t d" style="left:405.07px;top:704.44px;width:60px">3.44</div>
<div class="t d" style="left:462.12px;top:704.44px;width:60px">3.44</div>
<div class="t d" style="left:519.17px;top:704.44px;width:60px">3.54</div>
<div class="t d" style="left:576.22px;top:704.44px;width:60px">3.54</div>
<div class="t d" style="left:633.27px;top:704.44px;width:60px">3.54</div>
<div class="t n" style="left:6.00px;top:723.61px;width:60px">4"</div>
<div class="t d" style="left:62.78px;top:723.61px;width:60px">18.00</div>
<div class="t d" style="left:119.82px;top:723.61px;width:60px">18.00</div>
<div class="t d" style="left:176.88px;top:723.61px;width:60px">11.50</div>
<div class="t d" style="left:348.02px;top:723.61px;width:60px">5.00</div>
<div class="t d" style="left:405.07px;top:723.61px;width:60px">4.00</div>
<div class="t d" style="left:462.12px;top:723.61px;width:60px">3.36</div>
<div class="t d" style="left:519.17px;top:723.61px;width:60px">4.50</div>
<div class="t d" style="left:576.22px;top:723.61px;width:60px">4.50</div>
<div class="t d" style="left:633.27px;top:723.61px;width:60px">4.50</div>
<div class="r" style="left:7.75px;top:769.70px;width:798.15px;height:28.40px;background:#0265a7"></div>
<div class="r" style="left:7.75px;top:798.10px;width:798.15px;height:19.50px;background:#939699"></div>
<div class="r" style="left:7.75px;top:817.60px;width:56.50px;height:195.30px;background:#0073b5"></div>
<div class="r" style="left:64.25px;top:817.60px;width:57.05px;height:196.70px;background:#c5c9cc"></div>
<div class="r" style="left:178.35px;top:817.60px;width:57.05px;height:196.70px;background:#c5c9cc"></div>
<div class="r" style="left:292.45px;top:817.60px;width:57.05px;height:196.70px;background:#c5c9cc"></div>
<div class="r" style="left:406.55px;top:817.60px;width:57.05px;height:196.70px;background:#c5c9cc"></div>
<div class="r" style="left:520.65px;top:817.60px;width:57.05px;height:196.70px;background:#c5c9cc"></div>
<div class="r" style="left:634.75px;top:817.60px;width:57.05px;height:196.70px;background:#c5c9cc"></div>
<div class="r" style="left:748.85px;top:817.60px;width:57.05px;height:196.70px;background:#c5c9cc"></div>
<div class="r" style="left:64.25px;top:817.60px;width:2.50px;height:194.90px;background:#b7d3e7"></div>
<div class="r" style="left:64.25px;top:1012.30px;width:741.65px;height:2.00px;background:#c3c6c9"></div>
<div class="title" style="left:7.75px;top:771.00px;width:798.15px;height:28.40px;line-height:28.40px">V1-1 Butt Weld, Class 3500-4500</div>
<div class="t h" style="left:6.00px;top:799.61px;width:60px">NPS</div>
<div class="t h" style="left:120.50px;top:799.61px;width:60px">A</div>
<div class="t h" style="left:263.00px;top:799.61px;width:60px">C</div>
<div class="t h" style="left:405.50px;top:799.61px;width:60px">E</div>
<div class="t h" style="left:576.50px;top:799.61px;width:60px">G</div>
<div class="t h" style="left:719.00px;top:799.61px;width:60px">L</div>
<div class="t s sFP" style="left:62.78px;top:819.40px;width:60px">FP</div>
<div class="t s sRP" style="left:119.82px;top:819.40px;width:60px">RP</div>
<div class="t s sSTD" style="left:176.88px;top:819.40px;width:60px">STD</div>
<div class="t s sFP" style="left:233.92px;top:819.40px;width:60px">FP</div>
<div class="t s sSTD" style="left:290.97px;top:819.40px;width:60px">STD</div>
<div class="t s sFP" style="left:348.02px;top:819.40px;width:60px">FP</div>
<div class="t s sRP" style="left:405.07px;top:819.40px;width:60px">RP</div>
<div class="t s sSTD" style="left:462.12px;top:819.40px;width:60px">STD</div>
<div class="t s sFP" style="left:519.17px;top:819.40px;width:60px">FP</div>
<div class="t s sRP" style="left:576.22px;top:819.40px;width:60px">RP</div>
<div class="t s sSTD" style="left:633.27px;top:819.40px;width:60px">STD</div>
<div class="t s sFP" style="left:690.32px;top:819.40px;width:60px">FP</div>
<div class="t s sSTD" style="left:747.37px;top:819.40px;width:60px">STD</div>
<div class="t n" style="left:6.00px;top:840.65px;width:60px">1<span class="sl">/</span>2"</div>
<div class="t d" style="left:62.78px;top:840.65px;width:60px">6.75</div>
<div class="t d" style="left:176.88px;top:840.65px;width:60px">6.75</div>
<div class="t d" style="left:233.92px;top:840.65px;width:60px">5.88</div>
<div class="t d" style="left:290.97px;top:840.65px;width:60px">4.50</div>
<div class="t d" style="left:348.02px;top:840.65px;width:60px">2.25</div>
<div class="t d" style="left:462.12px;top:840.65px;width:60px">1.31</div>
<div class="t d" style="left:519.17px;top:840.65px;width:60px">0.85</div>
<div class="t d" style="left:633.27px;top:840.65px;width:60px">0.85</div>
<div class="t d" style="left:690.32px;top:840.65px;width:60px">15.00</div>
<div class="t d" style="left:747.37px;top:840.65px;width:60px">7.13</div>
<div class="t n" style="left:6.00px;top:859.77px;width:60px">3<span class="sl">/</span>4"</div>
<div class="t d" style="left:62.78px;top:859.77px;width:60px">6.75</div>
<div class="t d" style="left:176.88px;top:859.77px;width:60px">6.75</div>
<div class="t d" style="left:233.92px;top:859.77px;width:60px">5.88</div>
<div class="t d" style="left:290.97px;top:859.77px;width:60px">4.50</div>
<div class="t d" style="left:348.02px;top:859.77px;width:60px">2.25</div>
<div class="t d" style="left:462.12px;top:859.77px;width:60px">1.31</div>
<div class="t d" style="left:519.17px;top:859.77px;width:60px">1.11</div>
<div class="t d" style="left:633.27px;top:859.77px;width:60px">1.11</div>
<div class="t d" style="left:690.32px;top:859.77px;width:60px">15.00</div>
<div class="t d" style="left:747.37px;top:859.77px;width:60px">7.13</div>
<div class="t n" style="left:6.00px;top:878.90px;width:60px">1"</div>
<div class="t d" style="left:62.78px;top:878.90px;width:60px">9.56</div>
<div class="t d" style="left:119.82px;top:878.90px;width:60px">9.56</div>
<div class="t d" style="left:176.88px;top:878.90px;width:60px">6.75</div>
<div class="t d" style="left:233.92px;top:878.90px;width:60px">5.88</div>
<div class="t d" style="left:290.97px;top:878.90px;width:60px">4.50</div>
<div class="t d" style="left:348.02px;top:878.90px;width:60px">2.25</div>
<div class="t d" style="left:405.07px;top:878.90px;width:60px">2.25</div>
<div class="t d" style="left:462.12px;top:878.90px;width:60px">1.31</div>
<div class="t d" style="left:519.17px;top:878.90px;width:60px">1.40</div>
<div class="t d" style="left:576.22px;top:878.90px;width:60px">1.40</div>
<div class="t d" style="left:633.27px;top:878.90px;width:60px">1.40</div>
<div class="t d" style="left:690.32px;top:878.90px;width:60px">15.00</div>
<div class="t d" style="left:747.37px;top:878.90px;width:60px">7.13</div>
<div class="t n" style="left:6.00px;top:898.02px;width:60px">1-1<span class="sl">/</span>4"</div>
<div class="t d" style="left:62.78px;top:898.02px;width:60px">9.56</div>
<div class="t d" style="left:119.82px;top:898.02px;width:60px">9.56</div>
<div class="t d" style="left:176.88px;top:898.02px;width:60px">9.56</div>
<div class="t d" style="left:233.92px;top:898.02px;width:60px">5.88</div>
<div class="t d" style="left:290.97px;top:898.02px;width:60px">5.88</div>
<div class="t d" style="left:348.02px;top:898.02px;width:60px">2.25</div>
<div class="t d" style="left:405.07px;top:898.02px;width:60px">2.25</div>
<div class="t d" style="left:462.12px;top:898.02px;width:60px">2.25</div>
<div class="t d" style="left:519.17px;top:898.02px;width:60px">1.78</div>
<div class="t d" style="left:576.22px;top:898.02px;width:60px">1.78</div>
<div class="t d" style="left:633.27px;top:898.02px;width:60px">1.78</div>
<div class="t d" style="left:690.32px;top:898.02px;width:60px">15.00</div>
<div class="t d" style="left:747.37px;top:898.02px;width:60px">15.00</div>
<div class="t n" style="left:6.00px;top:917.15px;width:60px">1-1<span class="sl">/</span>2"</div>
<div class="t d" style="left:62.78px;top:917.15px;width:60px">11.13</div>
<div class="t d" style="left:119.82px;top:917.15px;width:60px">9.56</div>
<div class="t d" style="left:176.88px;top:917.15px;width:60px">9.56</div>
<div class="t d" style="left:233.92px;top:917.15px;width:60px">6.49</div>
<div class="t d" style="left:290.97px;top:917.15px;width:60px">5.88</div>
<div class="t d" style="left:348.02px;top:917.15px;width:60px">3.00</div>
<div class="t d" style="left:405.07px;top:917.15px;width:60px">2.25</div>
<div class="t d" style="left:462.12px;top:917.15px;width:60px">2.25</div>
<div class="t d" style="left:519.17px;top:917.15px;width:60px">2.04</div>
<div class="t d" style="left:576.22px;top:917.15px;width:60px">2.04</div>
<div class="t d" style="left:633.27px;top:917.15px;width:60px">2.04</div>
<div class="t d" style="left:690.32px;top:917.15px;width:60px">16.41</div>
<div class="t d" style="left:747.37px;top:917.15px;width:60px">15.00</div>
<div class="t n" style="left:6.00px;top:936.27px;width:60px">2"</div>
<div class="t d" style="left:62.78px;top:936.27px;width:60px">11.50</div>
<div class="t d" style="left:119.82px;top:936.27px;width:60px">11.13</div>
<div class="t d" style="left:176.88px;top:936.27px;width:60px">9.56</div>
<div class="t d" style="left:290.97px;top:936.27px;width:60px">5.88</div>
<div class="t d" style="left:348.02px;top:936.27px;width:60px">4.00</div>
<div class="t d" style="left:405.07px;top:936.27px;width:60px">2.25</div>
<div class="t d" style="left:462.12px;top:936.27px;width:60px">2.25</div>
<div class="t d" style="left:519.17px;top:936.27px;width:60px">2.44</div>
<div class="t d" style="left:576.22px;top:936.27px;width:60px">2.44</div>
<div class="t d" style="left:633.27px;top:936.27px;width:60px">2.44</div>
<div class="t d" style="left:747.37px;top:936.27px;width:60px">15.00</div>
<div class="t n" style="left:6.00px;top:955.40px;width:60px">2-1<span class="sl">/</span>2"</div>
<div class="t d" style="left:62.78px;top:955.40px;width:60px">11.50</div>
<div class="t d" style="left:119.82px;top:955.40px;width:60px">11.13</div>
<div class="t d" style="left:176.88px;top:955.40px;width:60px">11.13</div>
<div class="t d" style="left:290.97px;top:955.40px;width:60px">6.69</div>
<div class="t d" style="left:348.02px;top:955.40px;width:60px">4.00</div>
<div class="t d" style="left:405.07px;top:955.40px;width:60px">3.00</div>
<div class="t d" style="left:462.12px;top:955.40px;width:60px">3.00</div>
<div class="t d" style="left:519.17px;top:955.40px;width:60px">3.04</div>
<div class="t d" style="left:576.22px;top:955.40px;width:60px">3.04</div>
<div class="t d" style="left:633.27px;top:955.40px;width:60px">3.04</div>
<div class="t d" style="left:747.37px;top:955.40px;width:60px">16.41</div>
<div class="t n" style="left:6.00px;top:974.52px;width:60px">3"</div>
<div class="t d" style="left:62.78px;top:974.52px;width:60px">18.00</div>
<div class="t d" style="left:119.82px;top:974.52px;width:60px">11.50</div>
<div class="t d" style="left:176.88px;top:974.52px;width:60px">11.13</div>
<div class="t d" style="left:348.02px;top:974.52px;width:60px">5.13</div>
<div class="t d" style="left:405.07px;top:974.52px;width:60px">4.00</div>
<div class="t d" style="left:462.12px;top:974.52px;width:60px">3.00</div>
<div class="t d" style="left:519.17px;top:974.52px;width:60px">3.54</div>
<div class="t d" style="left:576.22px;top:974.52px;width:60px">3.54</div>
<div class="t d" style="left:633.27px;top:974.52px;width:60px">3.54</div>
<div class="t n" style="left:6.00px;top:993.65px;width:60px">4"</div>
<div class="t d" style="left:62.78px;top:993.65px;width:60px">18.00</div>
<div class="t d" style="left:119.82px;top:993.65px;width:60px">11.50</div>
<div class="t d" style="left:176.88px;top:993.65px;width:60px">11.13</div>
<div class="t d" style="left:348.02px;top:993.65px;width:60px">5.13</div>
<div class="t d" style="left:405.07px;top:993.65px;width:60px">4.00</div>
<div class="t d" style="left:462.12px;top:993.65px;width:60px">3.00</div>
<div class="t d" style="left:519.17px;top:993.65px;width:60px">4.50</div>
<div class="t d" style="left:576.22px;top:993.65px;width:60px">4.50</div>
<div class="t d" style="left:633.27px;top:993.65px;width:60px">4.50</div>
</body></html>
